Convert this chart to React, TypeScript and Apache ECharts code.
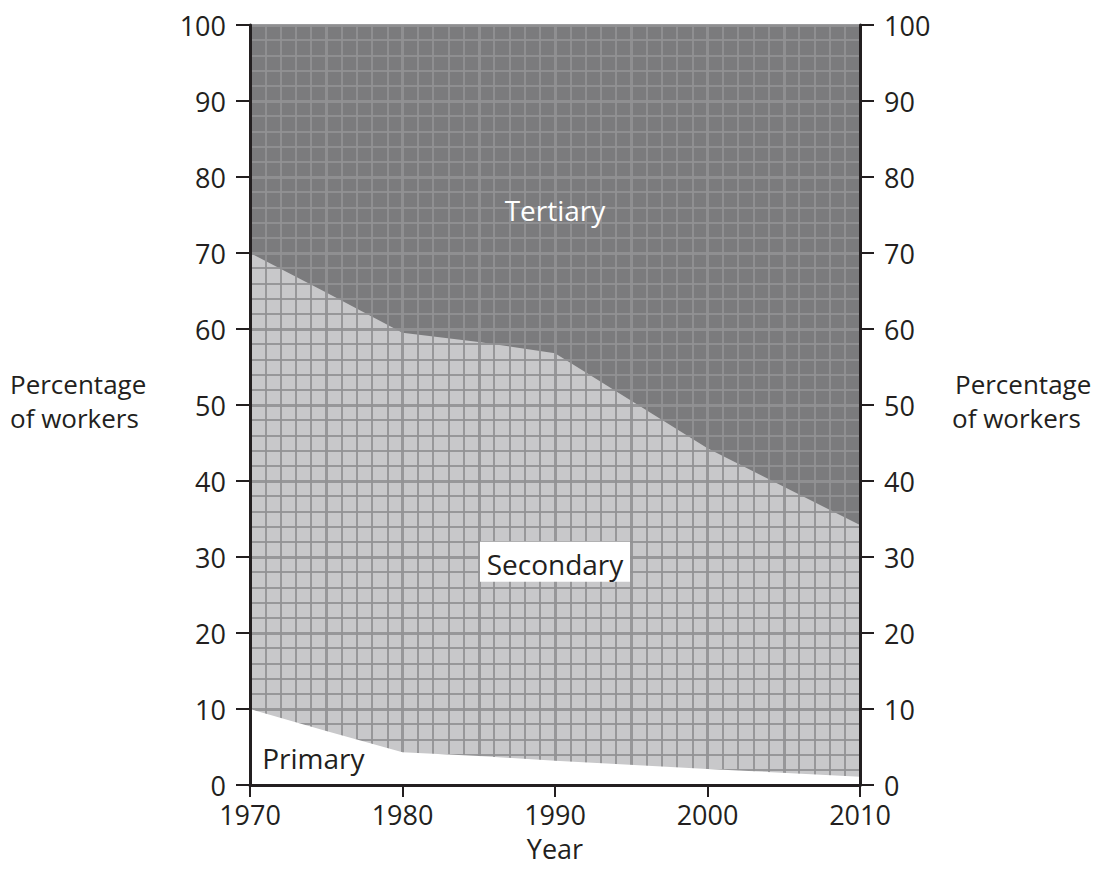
import React, { useEffect, useRef } from "react";
import * as echarts from "echarts";

const years = [1970, 1975, 1980, 1985, 1990, 2000, 2010];
const primary = [10, 7.1, 4.3, 3.8, 3.2, 2.1, 1.1];
const secondary = [60, 57.7, 55.2, 54.5, 53.6, 42.2, 33.1];
const tertiary = [30, 35.2, 40.5, 41.7, 43.2, 55.7, 65.8];

const regionLabels = [
  { text: "Tertiary", year: 1990, value: 75.7, color: "#ffffff", box: false, align: "center" },
  { text: "Secondary", year: 1990, value: 29.1, color: "#231f20", box: true, align: "center" },
  { text: "Primary", year: 1970.8, value: 3.6, color: "#231f20", box: false, align: "left" },
];

const FONT = "'Open Sans', 'Noto Sans', sans-serif";
const INK = "#231f20";
const GRID = "rgba(145,145,147,0.9)";

export default function App() {
  const ref = useRef<HTMLDivElement>(null);
  useEffect(() => {
    if (!ref.current) return;
    const chart = echarts.init(ref.current, undefined, { renderer: "svg" });

    // cumulative tops built from the shares
    const primaryTop = years.map((y, i) => [y, primary[i]]);
    const secondaryTop = years.map((y, i) => [y, +(primary[i] + secondary[i]).toFixed(2)]);
    const tertiaryTop = years.map((y, i) => [y, +(primary[i] + secondary[i] + tertiary[i]).toFixed(2)]);

    const axisLine = { show: true, onZero: false, lineStyle: { color: INK, width: 3 } };
    const gridAxisCommon = {
      axisLine: { show: false },
      axisTick: { show: false },
      axisLabel: { show: false },
      minorTick: { show: false, splitNumber: 5 },
      splitLine: { show: true, lineStyle: { color: GRID, width: 3 } },
      minorSplitLine: { show: true, lineStyle: { color: GRID, width: 2 } },
    };
    const areaSeries = (name: string, data: number[][], color: string, z: number) => ({
      name,
      type: "line",
      xAxisIndex: 0,
      yAxisIndex: 0,
      z,
      symbol: "none",
      silent: true,
      lineStyle: { width: 0, opacity: 0 },
      areaStyle: { color, opacity: 1, origin: "start" },
      data,
    });
    const labelStyle = { fontSize: 27, color: INK, fontFamily: FONT, lineHeight: 22 };

    chart.setOption({
      animation: false,
      backgroundColor: "#ffffff",
      grid: { left: 250, right: 250, top: 25, bottom: 97, containLabel: false },
      xAxis: [
        {
          type: "value",
          min: 1970,
          max: 2010,
          interval: 10,
          z: 6,
          axisLine,
          axisTick: { show: true, length: 12, lineStyle: { color: INK, width: 2 } },
          axisLabel: { ...labelStyle, margin: 18, formatter: (v: number) => String(v) },
          splitLine: { show: false },
        },
        {
          type: "value",
          min: 1970,
          max: 2010,
          interval: 5,
          z: 3,
          position: "bottom",
          ...gridAxisCommon,
        },
      ],
      yAxis: [
        {
          type: "value",
          min: 0,
          max: 100,
          interval: 10,
          position: "left",
          z: 6,
          axisLine,
          axisTick: { show: true, length: 14, lineStyle: { color: INK, width: 2 } },
          axisLabel: { ...labelStyle, margin: 24 },
          splitLine: { show: false },
        },
        {
          type: "value",
          min: 0,
          max: 100,
          interval: 10,
          position: "right",
          z: 6,
          axisLine,
          axisTick: { show: true, length: 14, lineStyle: { color: INK, width: 2 } },
          axisLabel: { ...labelStyle, margin: 24 },
          splitLine: { show: false },
        },
        {
          type: "value",
          min: 0,
          max: 100,
          interval: 10,
          position: "left",
          z: 3,
          ...gridAxisCommon,
        },
      ],
      series: [
        areaSeries("Tertiary", tertiaryTop, "#7b7b7d", 2),
        areaSeries("Secondary", secondaryTop, "#c8c8ca", 2.5),
        areaSeries("Primary", primaryTop, "#ffffff", 4),
      ],
    });

    const graphics: any[] = [];
    regionLabels.forEach((l) => {
      const p = chart.convertToPixel({ xAxisIndex: 0, yAxisIndex: 0 }, [l.year, l.value]) as number[];
      if (l.box) {
        graphics.push({
          type: "rect",
          z: 20,
          shape: { x: p[0] - 75, y: p[1] - 22, width: 150, height: 40 },
          style: { fill: "#ffffff" },
        });
      }
      graphics.push({
        type: "text",
        z: 21,
        x: p[0],
        y: p[1],
        style: {
          text: l.text,
          fill: l.color,
          font: `28px ${FONT}`,
          textAlign: l.align,
          textVerticalAlign: "middle",
        },
      });
    });
    const sideTexts = [
      { text: "Percentage", x: 10, y: 384 },
      { text: "of workers", x: 10, y: 418 },
      { text: "Percentage", x: 955, y: 384 },
      { text: "of workers", x: 952, y: 418 },
    ];
    sideTexts.forEach((t) =>
      graphics.push({
        type: "text",
        z: 21,
        x: t.x,
        y: t.y,
        style: { text: t.text, fill: INK, font: `26px ${FONT}`, textAlign: "left", textVerticalAlign: "middle", lineHeight: 28 },
      })
    );
    graphics.push({
      type: "text",
      z: 21,
      x: 555,
      y: 848,
      style: { text: "Year", fill: INK, font: `27px ${FONT}`, textAlign: "center", textVerticalAlign: "middle", lineHeight: 24 },
    });
    chart.setOption({ graphic: graphics });

    return () => chart.dispose();
  }, []);
  return (
    <div
      ref={ref}
      style={{ position: "fixed", left: 0, top: 0, width: 1110, height: 882, background: "#fff" }}
    />
  );
}
